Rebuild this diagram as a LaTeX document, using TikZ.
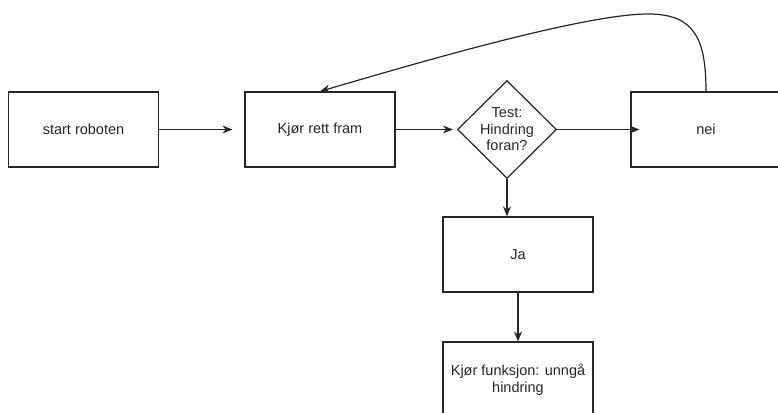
\documentclass[tikz,border=0pt]{standalone}
\usepackage{fontspec}
\setmainfont{Liberation Sans}
\usepackage{tikz}
\usetikzlibrary{shapes.geometric,arrows.meta}
\definecolor{ink}{HTML}{262626}

\begin{document}
\begin{tikzpicture}[x=1pt,y=1pt,
  boks/.style={draw=ink,line width=1.2pt,minimum width=150pt,minimum height=75pt,
    inner sep=0pt,align=center,font=\fontsize{14.5}{16.5}\selectfont,text=ink},
  test/.style={draw=ink,line width=1.2pt,diamond,minimum width=99pt,minimum height=98pt,
    inner sep=0pt,align=center,font=\fontsize{14.5}{16.5}\selectfont,text=ink},
  pil/.style={draw=ink,line width=1.2pt,-{Stealth[length=10pt,width=8pt]}}]
 \useasboundingbox (0,0) rectangle (778,-412);
 \clip (0,0) rectangle (778,-412);
 % top row
 \node[boks] (start) at (83.5,-129.5) {start roboten};
 \node[boks] (kjor) at (320,-129.5) {Kjør rett fram};
 \node[test] (sjekk) at (507,-129.5) {Test:\\Hindring\\foran?};
 \node[boks] (nei) at (706,-129.5) {nei};
 % down branch
 \node[boks] (ja) at (518,-254.5) {Ja};
 \node[boks] (unnga) at (518,-379.5) {Kjør funksjon: unngå\\hindring};
 \coordinate (topp) at (648,-14);
 % connectors
 \draw[pil,shorten >=12pt] (start) -- (kjor);
 \draw[pil,shorten >=4pt] (kjor) -- (sjekk);
 \draw[pil,shorten >=-9pt] (sjekk) -- (nei);
 \draw[pil] (sjekk.south) -- (sjekk.south |- ja.north);
 \draw[pil] (ja) -- (unnga);
 \draw[pil] (nei.north) .. controls (706,-38) and (694,-14) .. (topp)
   .. controls (585,-14) and (420,-62) .. (kjor.north);
\end{tikzpicture}
\end{document}
